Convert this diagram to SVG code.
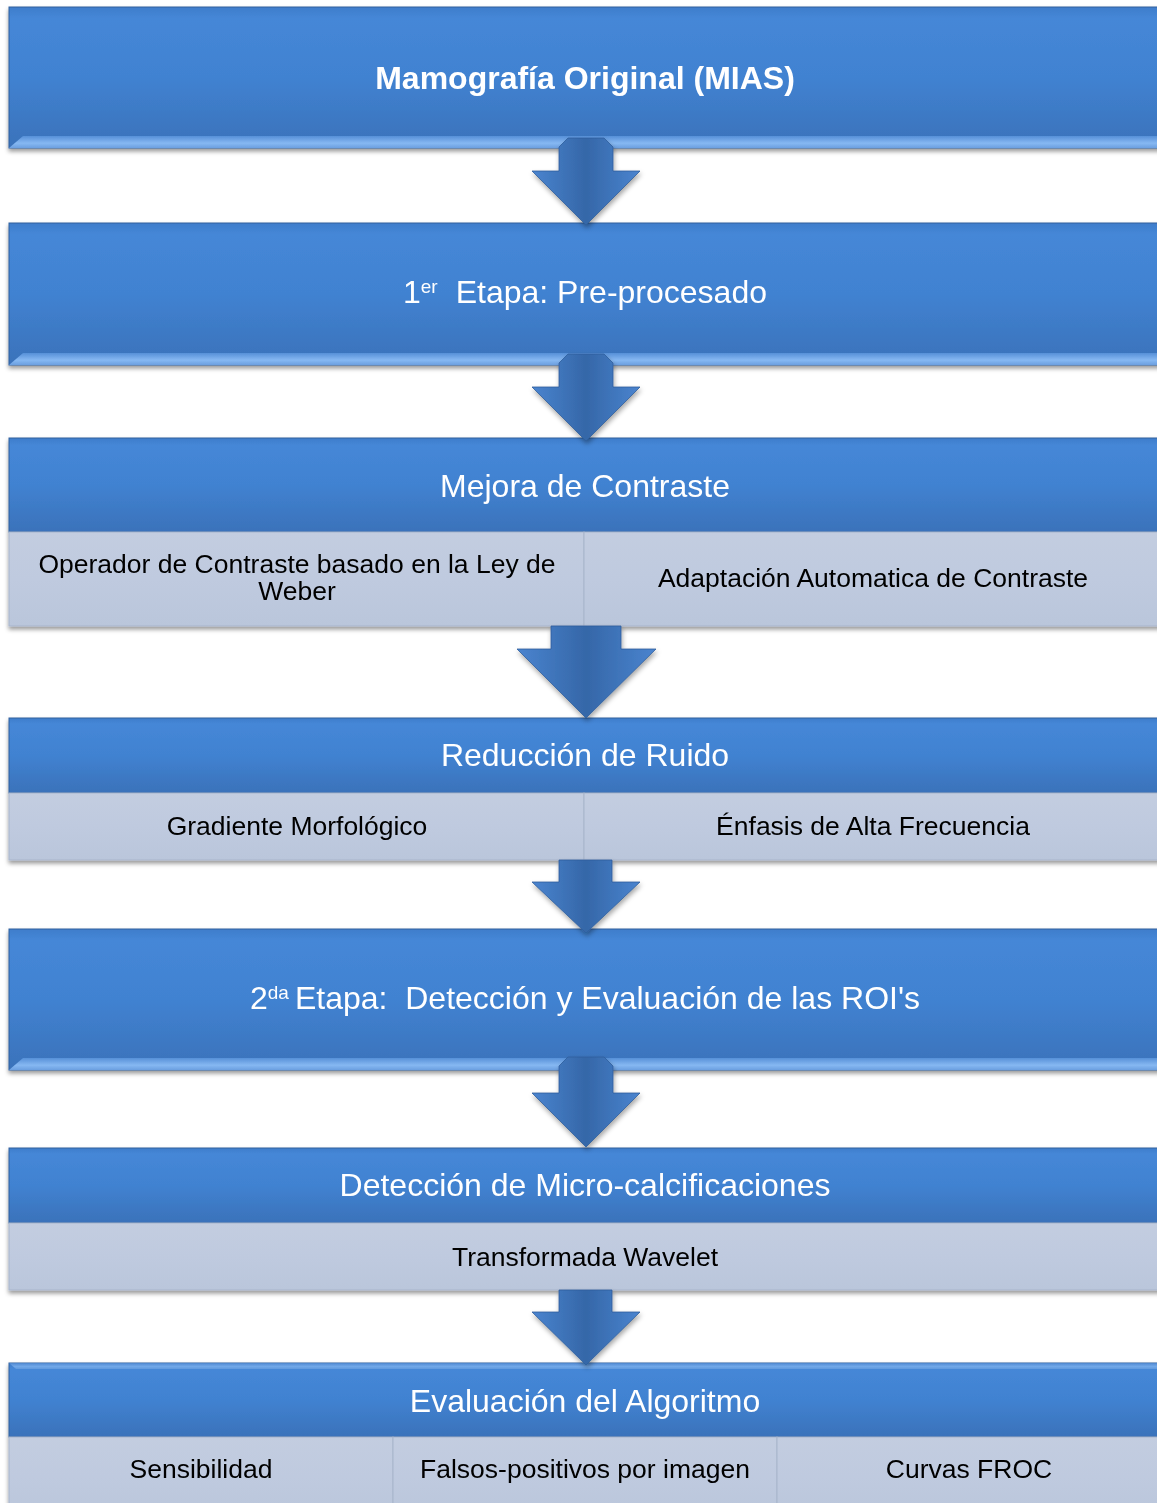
<svg xmlns="http://www.w3.org/2000/svg" width="1157" height="1503" viewBox="0 0 1157 1503">
<defs>
<linearGradient id="hdr" x1="0" y1="0" x2="0" y2="1">
<stop offset="0" stop-color="#3f7dcb"/>
<stop offset="0.08" stop-color="#4587d7"/>
<stop offset="0.5" stop-color="#4182d1"/>
<stop offset="1" stop-color="#3a72ba"/>
</linearGradient>
<linearGradient id="hi" x1="0" y1="0" x2="0" y2="1">
<stop offset="0" stop-color="#5690d8"/>
<stop offset="0.6" stop-color="#86b8f2"/>
<stop offset="1" stop-color="#6b9fe0"/>
</linearGradient>
<linearGradient id="sub" x1="0" y1="0" x2="0" y2="1">
<stop offset="0" stop-color="#c3cde0"/>
<stop offset="0.5" stop-color="#bfcadf"/>
<stop offset="1" stop-color="#bac6db"/>
</linearGradient>
<linearGradient id="arr" x1="0" y1="0" x2="1" y2="0">
<stop offset="0" stop-color="#4a84cf"/>
<stop offset="0.5" stop-color="#3567a8"/>
<stop offset="1" stop-color="#4a84cf"/>
</linearGradient>
<filter id="sh" x="-5%" y="-20%" width="110%" height="150%">
<feDropShadow dx="0" dy="3" stdDeviation="2" flood-color="#000" flood-opacity="0.4"/>
</filter>
<filter id="ash" x="-20%" y="-20%" width="140%" height="150%">
<feDropShadow dx="1" dy="3" stdDeviation="2.5" flood-color="#000" flood-opacity="0.35"/>
</filter>
</defs>
<style>
.h{fill:url(#hdr);stroke:#30609e;stroke-width:1}
.hi{fill:url(#hi)}
.s{fill:url(#sub);stroke:#a8b5cb;stroke-width:1}
.a{fill:url(#arr);stroke:#2f5e9c;stroke-width:0.8}
.tw{font-family:"Liberation Sans",Arial,sans-serif;fill:#ffffff;text-anchor:middle;font-size:32px}
.tb{font-weight:bold}
.tk{font-family:"Liberation Sans",Arial,sans-serif;fill:#000000;text-anchor:middle;font-size:26.5px}
.sup{font-size:19px}
</style>

<g id="n1" filter="url(#sh)">
<rect class="h" x="9" y="7" width="1160" height="141"/>
<polygon class="hi" points="9,148 23,136 1169,136 1169,148"/>
<text class="tw tb" x="585" y="89">Mamografía Original (MIAS)</text>
</g>

<g id="n2" filter="url(#sh)">
<rect class="h" x="9" y="223" width="1160" height="142"/>
<polygon class="hi" points="9,365 23,353 1169,353 1169,365"/>
<text class="tw" x="585" y="303"><tspan>1</tspan><tspan class="sup" dy="-10" dx="0">er</tspan><tspan dy="10" dx="18">Etapa: Pre-procesado</tspan></text>
</g>

<g id="n3" filter="url(#sh)">
<rect class="h" x="9" y="438" width="1160" height="94"/>
<rect class="s" x="9" y="532" width="575" height="94"/>
<rect class="s" x="584" y="532" width="585" height="94"/>
<text class="tw" x="585" y="497">Mejora de Contraste</text>
<text class="tk" x="297" y="573">Operador de Contraste basado en la Ley de</text>
<text class="tk" x="297" y="600">Weber</text>
<text class="tk" x="873" y="587">Adaptación Automatica de Contraste</text>
</g>

<g id="n4" filter="url(#sh)">
<rect class="h" x="9" y="718" width="1160" height="75"/>
<rect class="s" x="9" y="793" width="575" height="67"/>
<rect class="s" x="584" y="793" width="585" height="67"/>
<text class="tw" x="585" y="766">Reducción de Ruido</text>
<text class="tk" x="297" y="835">Gradiente Morfológico</text>
<text class="tk" x="873" y="835">Énfasis de Alta Frecuencia</text>
</g>

<g id="n5" filter="url(#sh)">
<rect class="h" x="9" y="929" width="1160" height="141"/>
<polygon class="hi" points="9,1070 23,1058 1169,1058 1169,1070"/>
<text class="tw" x="585" y="1009"><tspan>2</tspan><tspan class="sup" dy="-10" dx="0">da</tspan><tspan dy="10" dx="6">Etapa:&#160; Detección y Evaluación de las ROI's</tspan></text>
</g>

<g id="n6" filter="url(#sh)">
<rect class="h" x="9" y="1148" width="1160" height="75"/>
<rect class="s" x="9" y="1223" width="1160" height="67"/>
<text class="tw" x="585" y="1196">Detección de Micro-calcificaciones</text>
<text class="tk" x="585" y="1266">Transformada Wavelet</text>
</g>

<g id="n7" filter="url(#sh)">
<rect class="h" x="9" y="1363" width="1160" height="74"/>
<polygon class="hi" points="9,1363 1169,1363 1169,1369 16,1369" opacity="0.7"/>
<rect class="s" x="9" y="1437" width="384" height="80"/>
<rect class="s" x="393" y="1437" width="384" height="80"/>
<rect class="s" x="777" y="1437" width="392" height="80"/>
<text class="tw" x="585" y="1412">Evaluación del Algoritmo</text>
<text class="tk" x="201" y="1478">Sensibilidad</text>
<text class="tk" x="585" y="1478">Falsos-positivos por imagen</text>
<text class="tk" x="969" y="1478">Curvas FROC</text>
</g>

<g id="connectors" filter="url(#ash)">
<polygon class="a" points="568,138 604,138 613,147 613,171 640,171 586,225 532,171 559,171 559,147"/>
<polygon class="a" points="568,354 604,354 613,363 613,387 640,387 586,441 532,387 559,387 559,363"/>
<polygon class="a" points="551,626 621,626 621,649 656,649 586,718 517,649 551,649"/>
<polygon class="a" points="559,860 612,860 612,882 640,882 586,933 532,882 559,882"/>
<polygon class="a" points="568,1057 604,1057 613,1066 613,1093 640,1093 586,1147 532,1093 559,1093 559,1066"/>
<polygon class="a" points="559,1290 612,1290 612,1312 640,1312 586,1365 532,1312 559,1312"/>
</g>
</svg>
